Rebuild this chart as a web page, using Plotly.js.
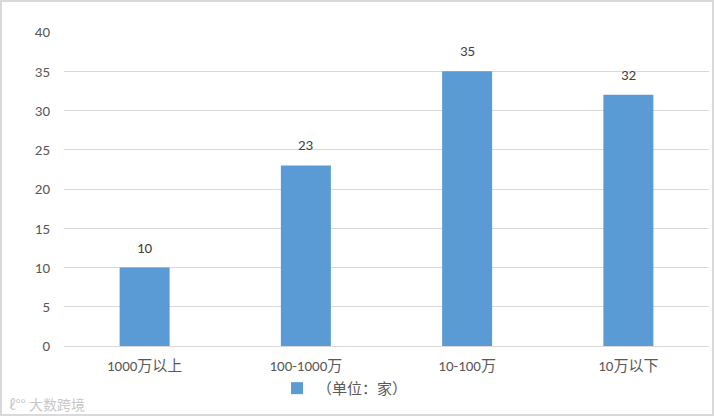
<!DOCTYPE html>
<html>
<head>
<meta charset="utf-8">
<script src="https://cdn.plot.ly/plotly-3.0.1.min.js"></script>
<style>
html,body{margin:0;padding:0;background:#fff;}
#wrap{position:relative;width:714px;height:416px;}
#chart{width:714px;height:416px;}
#frame{position:absolute;left:0;top:0;width:714px;height:416px;box-sizing:border-box;border:2px solid #d9d9d9;pointer-events:none;}
</style>
</head>
<body>
<div id="wrap"><div id="chart"></div><div id="frame"></div></div>
<script>
const categories = ["1000万以上", "100-1000万", "10-100万", "10万以下"];
const values = [10, 23, 35, 32];
const seriesName = "（单位：家）";
const yTicks = [0, 5, 10, 15, 20, 25, 30, 35, 40];

const font = "Calibri, 'Liberation Sans', 'Noto Sans CJK SC', sans-serif";

const labelAnns = categories.map((c, i) => ({
  x: c, y: values[i], xref: "x", yref: "y", yanchor: "bottom",
  text: String(values[i]), showarrow: false, yshift: 9,
  font: {family: font, size: 15, color: "#404040"}
}));

Plotly.newPlot("chart", [{
  type: "bar",
  x: categories,
  y: values,
  name: seriesName,
  marker: {color: "#5b9bd5"},
  width: 0.31,
  showlegend: true
}], {
  width: 714, height: 416,
  margin: {l: 64, r: 5, t: 32, b: 70, autoexpand: false},
  paper_bgcolor: "#fff",
  plot_bgcolor: "#fff",
  font: {family: font, size: 15, color: "#595959"},
  xaxis: {
    showgrid: false, showline: true, linecolor: "#d9d9d9", linewidth: 1,
    ticks: "outside", ticklen: 6, tickcolor: "rgba(0,0,0,0)",
    tickfont: {family: font, size: 15, color: "#595959"},
    fixedrange: true, automargin: false
  },
  yaxis: {
    range: [0, 40], tickvals: yTicks, showgrid: true, gridcolor: "#d9d9d9", gridwidth: 1,
    zeroline: false, showline: false, ticks: "outside", ticklen: 10, tickcolor: "rgba(0,0,0,0)",
    tickfont: {family: font, size: 15, color: "#595959"}, fixedrange: true, automargin: false
  },
  legend: {
    orientation: "h", xref: "container", yref: "container",
    x: 0.388, y: 0.106, xanchor: "left", yanchor: "top",
    bgcolor: "rgba(0,0,0,0)",
    font: {family: "'Noto Sans CJK SC', sans-serif", size: 15, color: "#595959"},
    itemwidth: 30
  },
  annotations: labelAnns.concat([{
    xref: "paper", yref: "paper", x: -0.088, y: -0.148, xanchor: "left", yanchor: "top",
    text: "ℓ°° 大数跨境", showarrow: false,
    font: {family: "'Noto Sans CJK SC', sans-serif", size: 14, color: "#c8c8c8"}
  }])
}, {displayModeBar: false, staticPlot: true});
</script>
</body>
</html>
